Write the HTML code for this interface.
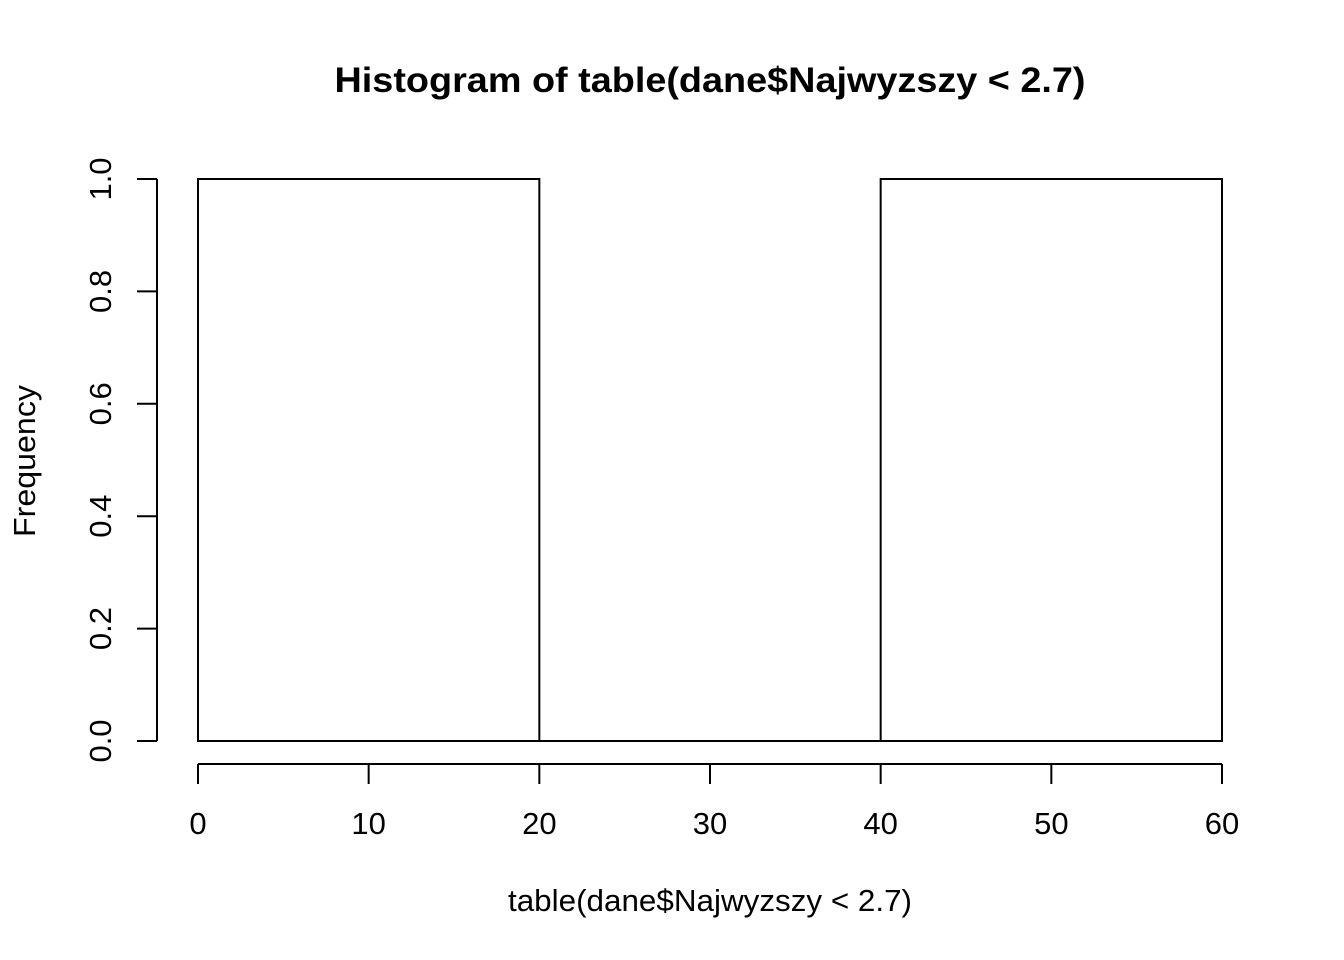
<!DOCTYPE html>
<html><head><meta charset="utf-8"><style>
html,body{margin:0;padding:0;background:#fff;}
svg{display:block;font-family:"Liberation Sans",Arial,sans-serif;}
</style></head><body>
<svg id="chart" width="1344" height="960" viewBox="0 0 1344 960" xmlns="http://www.w3.org/2000/svg">
<rect width="1344" height="960" fill="#fff"/>
<text x="710" y="92" text-anchor="middle" font-size="35" font-weight="bold" textLength="751" lengthAdjust="spacingAndGlyphs">Histogram of table(dane$Najwyzszy &lt; 2.7)</text>
<text x="710" y="911" text-anchor="middle" font-size="31" textLength="404" lengthAdjust="spacingAndGlyphs">table(dane$Najwyzszy &lt; 2.7)</text>
<text transform="translate(35,461) rotate(-90)" text-anchor="middle" font-size="31" textLength="152" lengthAdjust="spacingAndGlyphs">Frequency</text>
<g id="bars"></g>
<g id="xaxis"></g>
<g id="yaxis"></g>
</svg>
<script>
const binEdges = [0, 20, 40, 60];
const counts = [1, 0, 1];
const xTicks = [0, 10, 20, 30, 40, 50, 60];
const yTicks = [0, 0.2, 0.4, 0.6, 0.8, 1.0];
const yTickLabels = ["0.0", "0.2", "0.4", "0.6", "0.8", "1.0"];

const NS = "http://www.w3.org/2000/svg";
const xs = v => 198 + (v - 0) * (1222 - 198) / 60;
const ys = v => 741 - v * (741 - 179) / 1.0;
function mk(tag, attrs, parent) {
  const e = document.createElementNS(NS, tag);
  for (const k in attrs) e.setAttribute(k, attrs[k]);
  parent.appendChild(e);
  return e;
}
const bars = document.getElementById("bars");
counts.forEach((c, i) => {
  const x0 = xs(binEdges[i]), x1 = xs(binEdges[i + 1]), y = ys(c), y0 = ys(0);
  const r = mk("rect", {x: x0, y: y, width: x1 - x0, height: Math.max(y0 - y, 0.01), fill: "none", stroke: "#000", "stroke-width": 2}, bars);
  
  
});
const xa = document.getElementById("xaxis");
const xl = mk("line", {x1: xs(xTicks[0]), x2: xs(xTicks[xTicks.length - 1]), y1: 764, y2: 764, stroke: "#000", "stroke-width": 2}, xa);


xTicks.forEach(t => {
  const tk = mk("line", {x1: xs(t), x2: xs(t), y1: 764, y2: 784, stroke: "#000", "stroke-width": 2}, xa);
  
  
  const tx = mk("text", {x: xs(t), y: 834, "text-anchor": "middle", "font-size": 31}, xa);
  tx.textContent = t;
  
  
});
const ya = document.getElementById("yaxis");
const yl = mk("line", {x1: 157, x2: 157, y1: ys(yTicks[0]), y2: ys(yTicks[yTicks.length - 1]), stroke: "#000", "stroke-width": 2}, ya);


yTicks.forEach((t, i) => {
  const tk = mk("line", {x1: 137, x2: 157, y1: ys(t), y2: ys(t), stroke: "#000", "stroke-width": 2}, ya);
  
  
  const tx = mk("text", {transform: "translate(111," + ys(t) + ") rotate(-90)", "text-anchor": "middle", "font-size": 31}, ya);
  tx.textContent = yTickLabels[i];
  
  
});
</script>
</body></html>
